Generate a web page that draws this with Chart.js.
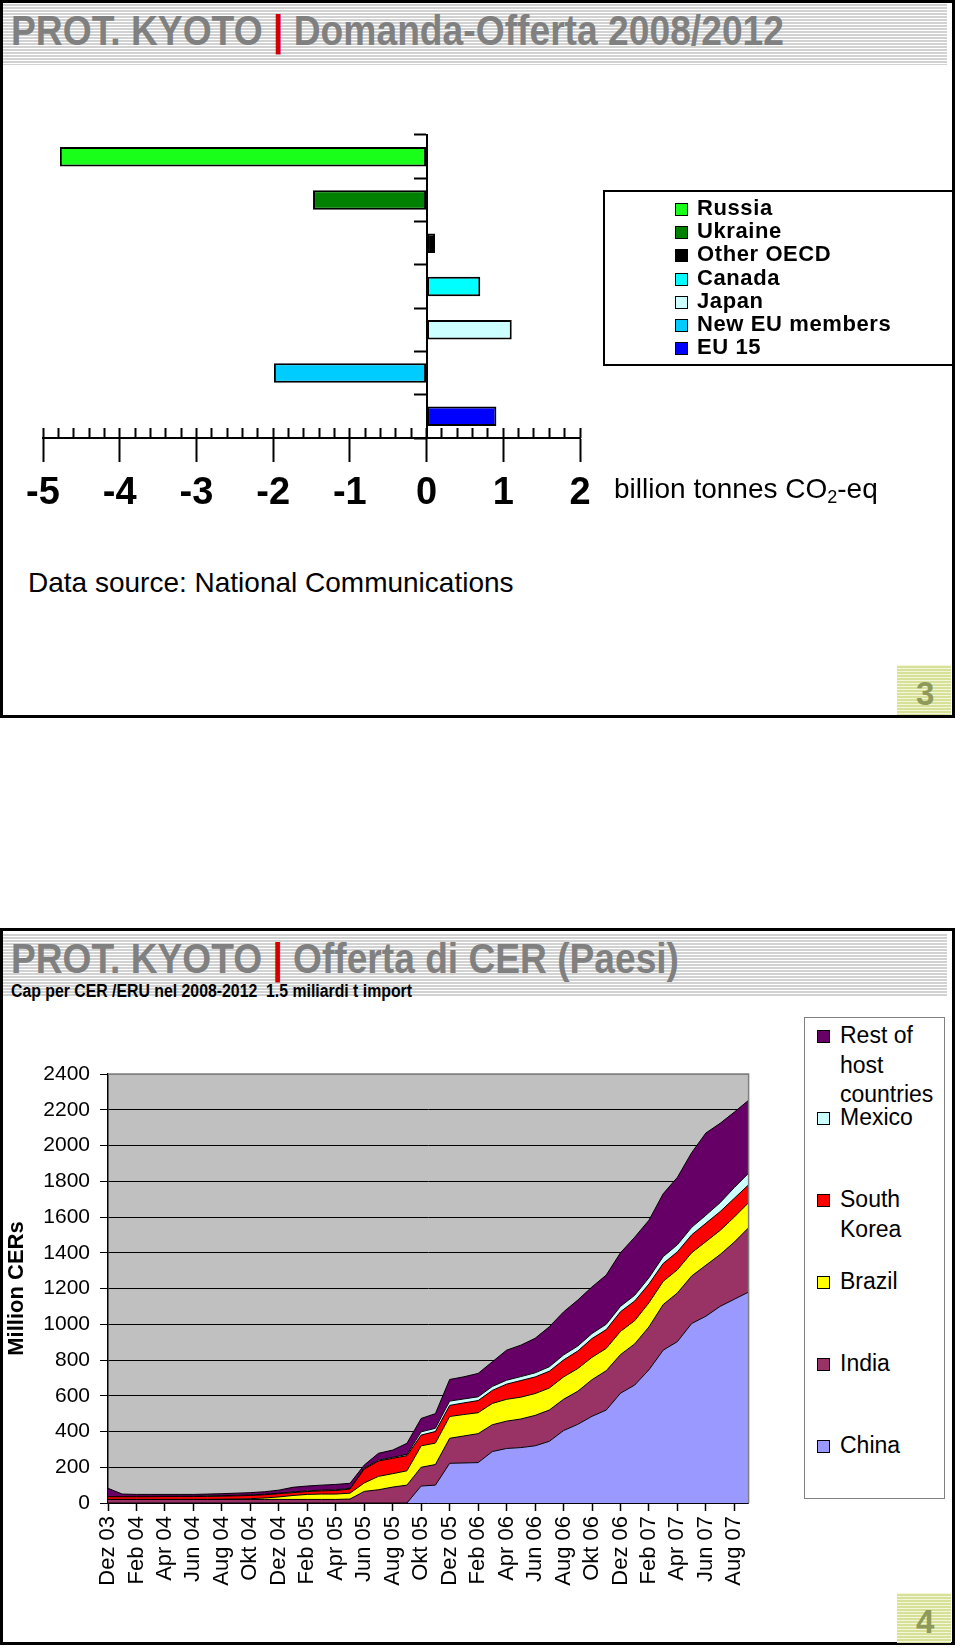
<!DOCTYPE html>
<html>
<head>
<meta charset="utf-8">
<title>PROT. KYOTO</title>
<script src="https://cdn.jsdelivr.net/npm/chart.js@4.4.1/dist/chart.umd.min.js"></script>
<style>
  body { margin: 0; background: #fff; font-family: 'Liberation Sans', Arial, sans-serif; }
  #page { position: relative; width: 960px; height: 1650px; overflow: hidden; }
  .slide { position: absolute; left: 0; width: 955px; box-sizing: border-box; border: 3px solid #000; }
  .band { position: absolute; left: 3px; width: 944px;
          background: repeating-linear-gradient(to bottom, #fff 0 1px, #d2d2d2 1px 3px); }
  .title { position: absolute; left: 11px; white-space: nowrap; color: #808080; transform-origin: 0 0;
           font: bold 42px/1 'Liberation Sans', Arial, sans-serif; }
  .title .sep { color: #d40000; }
  .subtitle { position: absolute; left: 11px; white-space: nowrap; color: #000; transform-origin: 0 0;
              font: bold 18px/1 'Liberation Sans', Arial, sans-serif; }
  .pageno { position: absolute; left: 897px; width: 54px; height: 50px;
            background: repeating-linear-gradient(to bottom, #f3f6d8 0 1px, #d6e197 1px 3px); }
  .pageno span { position: absolute; left: 19px; top: 12px; font: bold 33px/1 'Liberation Sans', Arial, sans-serif; color: #8d9a5a; }
  canvas { position: absolute; left: 0; }
  .note { position: absolute; white-space: nowrap; font: 28px/1 'Liberation Sans', Arial, sans-serif; color: #000; }
  .note sub { font-size: 18px; vertical-align: -5px; }
  #legend1 { position: absolute; left: 603px; top: 190px; width: 352px; height: 176px; box-sizing: border-box;
             border: 2px solid #000; padding: 4px 0 0 70px; }
  #legend1 .item { height: 23.2px; font: bold 22px/23.2px 'Liberation Sans', Arial, sans-serif; letter-spacing: 0.6px; white-space: nowrap; }
  #legend1 .item i { display: inline-block; width: 11px; height: 11px; border: 1px solid #000; margin-right: 9px; vertical-align: -1px; }
  #legend2 { position: absolute; left: 804px; top: 1017px; width: 141px; height: 482px; box-sizing: border-box;
             border: 1px solid #808080; padding: 3px 0 0 0; }
  #legend2 .item { position: relative; height: 82px; }
  #legend2 .item i { position: absolute; left: 12px; top: 9px; width: 11px; height: 11px; border: 1px solid #000; }
  #legend2 .item span { position: absolute; left: 35px; width: 108px; font: 23px/29.5px 'Liberation Sans', Arial, sans-serif; color: #000; }
</style>
</head>
<body>
<div id="page">
  <!-- slide 3 -->
  <div class="slide" style="top:0; height:718px;"></div>
  <div class="band" style="top:3px; height:62px;"></div>
  <div class="title" data-w="773" style="top:10px;">PROT. KYOTO <span class="sep">|</span> Domanda-Offerta 2008/2012</div>
  <canvas id="balanceChart" width="700" height="446" style="top:100px;"></canvas>
  <div id="legend1"></div>
  <div class="note" style="left:614px; top:475px;">billion tonnes CO<sub>2</sub>-eq</div>
  <div class="note" style="left:28px; top:569px;">Data source: National Communications</div>
  <div class="pageno" style="top:665px;"><span>3</span></div>

  <!-- slide 4 -->
  <div class="slide" style="top:928px; height:717px;"></div>
  <div class="band" style="top:933px; height:63px;"></div>
  <div class="title" data-w="668" style="top:938px;">PROT. KYOTO <span class="sep">|</span> Offerta di CER (Paesi)</div>
  <div class="subtitle" data-w="401" style="top:982px;">Cap per CER /ERU nel 2008-2012&nbsp; 1.5 miliardi t import</div>
  <canvas id="cerChart" width="780" height="569" style="top:1051px;"></canvas>
  <div id="legend2"></div>
  <div class="pageno" style="top:1593px;"><span>4</span></div>
</div>

<script>
// --- slide 3: supply / demand balance ---
const groups = ['Russia', 'Ukraine', 'Other OECD', 'Canada', 'Japan', 'New EU members', 'EU 15'];
const balance = [-4.78, -1.48, 0.11, 0.70, 1.11, -1.99, 0.91];
const groupColors = ['#19ff19', '#008000', '#000000', '#00ffff', '#ccffff', '#00ccff', '#0000ff'];
const balanceTicks = [-5, -4, -3, -2, -1, 0, 1, 2];

// --- slide 4: cumulative CER supply by host country ---
const months = ['Dez 03',
  'Jan 04', 'Feb 04', 'Mrz 04', 'Apr 04', 'Mai 04', 'Jun 04', 'Jul 04', 'Aug 04', 'Sep 04', 'Okt 04', 'Nov 04', 'Dez 04',
  'Jan 05', 'Feb 05', 'Mrz 05', 'Apr 05', 'Mai 05', 'Jun 05', 'Jul 05', 'Aug 05', 'Sep 05', 'Okt 05', 'Nov 05', 'Dez 05',
  'Jan 06', 'Feb 06', 'Mrz 06', 'Apr 06', 'Mai 06', 'Jun 06', 'Jul 06', 'Aug 06', 'Sep 06', 'Okt 06', 'Nov 06', 'Dez 06',
  'Jan 07', 'Feb 07', 'Mrz 07', 'Apr 07', 'Mai 07', 'Jun 07', 'Jul 07', 'Aug 07', 'Sep 07'];
const china  = [0, 0, 0, 0, 0, 0, 0, 0, 0, 0, 0, 0, 0, 0, 0, 0, 0, 0, 0, 0, 0, 0, 95, 100, 222, 224, 226, 288, 305, 310,
                320, 345, 405, 440, 485, 520, 614, 660, 745, 855, 903, 1004, 1045, 1100, 1140, 1180];
const india  = [20, 20, 20, 20, 20, 20, 20, 20, 20, 20, 20, 20, 20, 20, 20, 20, 20, 22, 65, 74, 89, 100, 105, 115, 140, 151, 162, 150, 153, 160,
                170, 175, 175, 185, 205, 220, 216, 230, 240, 255, 272, 266, 285, 290, 320, 360];
const brazil = [0, 0, 0, 0, 0, 0, 0, 0, 1, 2, 4, 8, 14, 22, 28, 30, 30, 33, 47, 75, 75, 80, 120, 120, 122, 120, 117, 119, 122, 122,
                122, 123, 125, 127, 125, 125, 130, 130, 135, 130, 130, 130, 132, 135, 140, 140];
const korea  = [15, 15, 15, 15, 16, 16, 16, 17, 17, 18, 18, 18, 18, 16, 16, 18, 20, 23, 78, 86, 86, 85, 60, 65, 62, 65, 68, 73, 85, 93,
                93, 94, 95, 98, 105, 105, 110, 110, 105, 100, 100, 100, 103, 105, 105, 100];
const mexico = [1, 1, 2, 2, 2, 2, 2, 3, 3, 3, 3, 3, 3, 4, 4, 4, 4, 4, 5, 5, 5, 7, 18, 18, 24, 22, 21, 22, 22, 22,
                23, 25, 28, 28, 28, 30, 30, 32, 35, 38, 40, 42, 45, 50, 60, 65];
const rest   = [46, 14, 11, 11, 10, 10, 10, 10, 11, 12, 13, 14, 17, 26, 27, 28, 30, 28, 17, 38, 41, 62, 75, 82, 121, 124, 131, 138, 168, 176,
                193, 224, 241, 257, 261, 275, 300, 325, 322, 352, 377, 418, 460, 444, 422, 408];
const seriesNames = ['China', 'India', 'Brazil', 'South Korea', 'Mexico', 'Rest of host countries'];
const seriesColors = ['#9999ff', '#993366', '#ffff00', '#ff0000', '#ccffff', '#660066'];
const cerTicks = [0, 200, 400, 600, 800, 1000, 1200, 1400, 1600, 1800, 2000, 2200, 2400];

const SANS = "'Liberation Sans', Arial, sans-serif";

// squeeze the slide titles to the narrow width they have in the original
document.querySelectorAll('[data-w]').forEach(el => {
  const w = el.getBoundingClientRect().width;
  el.style.transform = 'scaleX(' + (Number(el.dataset.w) / w) + ')';
});

// legends
const legend1 = document.getElementById('legend1');
groups.forEach((g, i) => {
  legend1.insertAdjacentHTML('beforeend', `<div class="item"><i style="background:${groupColors[i]}"></i>${g}</div>`);
});
const legend2 = document.getElementById('legend2');
seriesNames.slice().reverse().forEach((name, k) => {
  const i = seriesNames.length - 1 - k;
  legend2.insertAdjacentHTML('beforeend', `<div class="item"><i style="background:${seriesColors[i]}"></i><span>${name}</span></div>`);
});

// horizontal bar chart
new Chart(document.getElementById('balanceChart'), {
  type: 'bar',
  data: {
    labels: groups,
    datasets: [{
      data: balance,
      backgroundColor: groupColors,
      borderColor: '#000',
      borderWidth: 2,
      borderSkipped: false,
      barPercentage: 0.45,
      categoryPercentage: 1
    }]
  },
  options: {
    indexAxis: 'y',
    responsive: false,
    animation: false,
    layout: { padding: { left: 43, right: 120, top: 35, bottom: 0 } },
    plugins: { legend: { display: false }, tooltip: { enabled: false } },
    scales: {
      x: {
        type: 'linear',
        min: balanceTicks[0],
        max: balanceTicks[balanceTicks.length - 1],
        position: 'bottom',
        afterBuildTicks: s => { s.ticks = balanceTicks.map(v => ({ value: v })); },
        afterFit: s => { s.height = 108; },
        grid: { drawOnChartArea: false, tickLength: 24, tickWidth: 2, tickColor: '#000' },
        border: { display: true, color: '#000', width: 2 },
        ticks: { padding: 9, maxRotation: 0, color: '#000', font: { family: SANS, size: 38, weight: 'bold' } }
      },
      xMinor: {
        axis: 'x',
        type: 'linear',
        min: balanceTicks[0],
        max: balanceTicks[balanceTicks.length - 1],
        position: { y: groups.length - 0.5 },
        ticks: { display: false, stepSize: 0.2 },
        grid: { drawOnChartArea: false, tickLength: -10, tickWidth: 2, tickColor: '#000' },
        border: { display: false }
      },
      y: {
        type: 'category',
        position: { x: 0 },
        ticks: { display: false },
        grid: { offset: true, drawOnChartArea: false, tickLength: 12, tickWidth: 2, tickColor: '#000' },
        border: { display: true, color: '#000', width: 2 }
      }
    }
  }
});

// grey plot area like the spreadsheet original
const plotArea = {
  id: 'plotArea',
  beforeDraw(chart) {
    const { ctx, chartArea: a } = chart;
    ctx.save();
    ctx.fillStyle = '#c0c0c0';
    ctx.fillRect(a.left, a.top, a.width, a.height);
    ctx.restore();
  },
  afterDatasetsDraw(chart) {
    const { ctx, chartArea: a } = chart;
    ctx.save();
    ctx.strokeStyle = '#808080';
    ctx.lineWidth = 1.5;
    ctx.beginPath();
    ctx.moveTo(a.left, a.top);
    ctx.lineTo(a.right, a.top);
    ctx.lineTo(a.right, a.bottom);
    ctx.stroke();
    ctx.restore();
  }
};

const seriesValues = [china, india, brazil, korea, mexico, rest];

new Chart(document.getElementById('cerChart'), {
  type: 'line',
  data: {
    labels: months,
    datasets: seriesValues.map((vals, i) => ({
      label: seriesNames[i],
      data: vals,
      backgroundColor: seriesColors[i],
      borderColor: '#000',
      borderWidth: 1,
      pointRadius: 0,
      tension: 0,
      fill: i === 0 ? 'origin' : '-1'
    }))
  },
  options: {
    responsive: false,
    animation: false,
    layout: { padding: { left: 0, right: 31, top: 23, bottom: 0 } },
    plugins: { legend: { display: false }, tooltip: { enabled: false } },
    scales: {
      x: {
        type: 'category',
        afterFit: s => { s.height = 117; },
        grid: {
          drawOnChartArea: false,
          tickLength: 8,
          tickWidth: 1.5,
          tickColor: c => (c.index % 2 === 0 ? '#000' : 'rgba(0,0,0,0)')
        },
        border: { color: '#000', width: 1.5 },
        ticks: {
          autoSkip: false,
          maxRotation: 90,
          minRotation: 90,
          padding: 5,
          color: '#000',
          font: { family: SANS, size: 22 },
          callback: (v, i) => (i % 2 === 0 ? months[i] : '')
        }
      },
      y: {
        stacked: true,
        min: cerTicks[0],
        max: cerTicks[cerTicks.length - 1],
        afterBuildTicks: s => { s.ticks = cerTicks.map(v => ({ value: v })); },
        afterFit: s => { s.width = 108; },
        grid: {
          color: c => (c.tick && c.tick.value === cerTicks[cerTicks.length - 1] ? '#808080' : '#000'),
          lineWidth: 1,
          tickLength: 8,
          tickColor: '#000'
        },
        border: { color: '#000', width: 1.5 },
        title: {
          display: true,
          text: 'Million CERs',
          color: '#000',
          font: { family: SANS, size: 22, weight: 'bold' },
          padding: { top: 4, bottom: 4 }
        },
        ticks: {
          padding: 10,
          color: '#000',
          font: { family: SANS, size: 21 },
          callback: v => String(v)
        }
      }
    }
  },
  plugins: [plotArea]
});
</script>
</body>
</html>
